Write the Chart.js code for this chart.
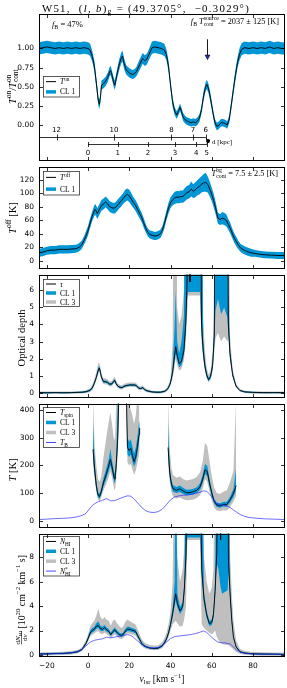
<!DOCTYPE html>
<html>
<head>
<meta charset="utf-8">
<script src="https://cdn.jsdelivr.net/npm/chart.js@4/dist/chart.umd.min.js"></script>
<style>
html, body { margin: 0; padding: 0; background: #fff; }
#wrap { position: relative; width: 287px; height: 688px; overflow: hidden; }
canvas { position: absolute; left: 0; }
</style>
</head>
<body>
<div id="wrap">
  <canvas id="c1"></canvas>
  <canvas id="c2"></canvas>
  <canvas id="c3"></canvas>
  <canvas id="c4"></canvas>
  <canvas id="c5"></canvas>
</div>
<script>
// ---------- data ----------
const xTicks = [-20, 0, 20, 40, 60, 80];
const yTicks1 = [0, 0.25, 0.5, 0.75, 1];
const yTicks2 = [0, 20, 40, 60, 80, 100, 120];
const yTicks3 = [0, 1, 2, 3, 4, 5, 6];
const yTicks4 = [0, 100, 200, 300, 400];
const yTicks5 = [0, 2, 4, 6, 8];

// distance scale (kpc) and the velocity each tick sits at
const distFar = [12, 10, 8, 7, 6];
const distFarVel = [-15.3, 12.6, 40.4, 50.9, 57.1];
const distNear = [0, 1, 2, 3, 4, 5];
const distNearVel = [0, 14.4, 29.0, 42.2, 52.4, 57.6];
const tangentVel = 58.2;
const arrowVel = 57.5;

// panel 1: T_on / T_on,cont
const vel1 = [-24, -22, -20, -18, -16, -14, -12, -10, -8, -6, -4, -2,
  0, 1, 2, 3, 4, 5, 5.5,
  6, 6.5, 7.5, 8.5, 9.5, 10.5, 11, 11.5, 12.5, 13, 14, 15, 16, 16.7, 17.5,
  18.5, 20, 21.5, 22.5, 23.5, 25, 26.5, 27.5, 28.5, 29.5, 31, 32.5, 34, 35.5, 37,
  38, 39, 40, 41, 42, 43, 44, 44.6, 45.3, 46, 47, 48, 49, 50, 51,
  52, 53, 54, 55, 56, 57, 57.6, 58.5, 59.5, 60.5, 61.5, 62.5, 63.5, 64.5, 65.5,
  66.5, 67.5, 68.5, 69.5, 70.5, 71.5, 72.5, 73.5, 74.5, 76, 78, 80, 82, 84, 86,
  88, 90, 92, 94, 95.5];
const ton = [1.00, 1.01, 1.02, 1.01, 1.00, 1.01, 1.00, 1.01, 1.00, 1.01, 1.00, 1.01,
  1.00, 0.98, 0.90, 0.78, 0.55, 0.31, 0.27,
  0.36, 0.52, 0.54, 0.57, 0.62, 0.70, 0.71, 0.66, 0.55, 0.52, 0.66, 0.78, 0.87, 0.90, 0.80,
  0.72, 0.68, 0.66, 0.67, 0.70, 0.79, 0.87, 0.84, 0.86, 0.92, 1.01, 1.02, 1.01, 1.00, 0.98,
  0.92, 0.77, 0.52, 0.30, 0.18, 0.13, 0.19, 0.23, 0.18, 0.11, 0.07, 0.05, 0.04, 0.03, 0.04,
  0.03, 0.05, 0.09, 0.20, 0.38, 0.50, 0.53, 0.47, 0.33, 0.17, 0.03, -0.02, 0.00, 0.03, 0.03,
  0.02, 0.00, 0.08, 0.27, 0.47, 0.66, 0.82, 0.93, 0.99, 1.01, 1.00, 1.01, 1.00, 1.01, 1.00,
  1.02, 1.00, 1.01, 1.00, 1.00];
const tonErr = [0.08, 0.08, 0.08, 0.08, 0.08, 0.08, 0.08, 0.08, 0.08, 0.08, 0.08, 0.08,
  0.08, 0.08, 0.07, 0.07, 0.07, 0.06, 0.06,
  0.06, 0.06, 0.06, 0.06, 0.06, 0.06, 0.06, 0.06, 0.06, 0.06, 0.06, 0.07, 0.07, 0.07, 0.07,
  0.06, 0.06, 0.06, 0.06, 0.06, 0.07, 0.07, 0.07, 0.07, 0.07, 0.08, 0.08, 0.08, 0.08, 0.08,
  0.07, 0.07, 0.06, 0.06, 0.05, 0.05, 0.05, 0.05, 0.05, 0.05, 0.05, 0.05, 0.05, 0.05, 0.05,
  0.05, 0.05, 0.05, 0.05, 0.06, 0.06, 0.06, 0.06, 0.06, 0.05, 0.05, 0.05, 0.05, 0.05, 0.05,
  0.05, 0.05, 0.05, 0.06, 0.06, 0.07, 0.07, 0.08, 0.08, 0.08, 0.08, 0.08, 0.08, 0.08, 0.08,
  0.08, 0.08, 0.08, 0.08, 0.08];

// panel 2: T_off [K]
const vel2 = [-24, -22, -20, -18, -16, -14, -12, -10, -8, -6,
  -5, -4, -3, -2, -1, 0, 1, 2, 3, 3.5, 4.5, 5.5, 6.5, 7.5, 8.5,
  9.5, 10.5, 12, 13, 14, 15, 16, 17, 18, 19, 20, 21, 22, 23, 24,
  25, 26, 27, 28, 29, 30, 31, 32, 33, 34, 35, 36, 37, 38, 39,
  40, 41, 42, 43, 44, 45, 46, 47, 48, 49, 50, 51, 52, 53, 54,
  55, 56, 57, 58, 59, 60, 61, 62, 63, 64, 65, 66, 67, 68, 69,
  70, 71, 72, 73, 74, 75, 77, 79, 81, 83, 86, 89, 92, 95.5];
const toff = [12, 13, 15, 16, 16, 17, 17, 17, 17.5, 18,
  19, 21, 24, 30, 37, 45, 56, 66, 74, 76, 70, 76, 82, 84, 87,
  84, 80, 78, 78, 81, 85, 88, 92, 96, 98, 96, 91, 86, 82, 76,
  70, 64, 56, 48, 42, 39, 38, 37, 37, 38, 40, 45, 55, 67, 78,
  86, 90, 93, 94, 94, 95, 95, 98, 101, 102, 106, 103, 105, 108, 110,
  113, 115, 116, 113, 106, 98, 88, 76, 63, 61, 63, 62, 60, 54, 48,
  40, 33, 28, 23, 19, 17, 14, 12, 11, 10, 9, 8.5, 8, 8];
const toffErr = [6, 6, 6, 6, 6, 6, 6, 6, 6, 6,
  6, 6, 6, 6, 7, 7, 7, 7, 8, 8, 8, 8, 8, 8, 8,
  8, 8, 8, 8, 8, 8, 8, 8, 9, 9, 9, 9, 8, 8, 8,
  7, 7, 7, 6, 6, 6, 6, 6, 6, 6, 6, 6, 7, 7, 8,
  8, 8, 9, 9, 9, 9, 9, 10, 10, 10, 11, 10, 11, 11, 12,
  12, 13, 14, 12, 11, 10, 10, 9, 8, 8, 9, 9, 9, 8, 8,
  7, 7, 7, 6, 6, 6, 6, 6, 5, 5, 5, 5, 5, 5];

// panel 3: optical depth (20 = saturated, off the plot)
const velTau = [-24, -20, -16, -12, -8, -5, -3, -1, 0, 1,
  2, 3, 4, 5, 5.5, 6, 6.5, 7.5, 8.5, 9.5,
  10.5, 11.5, 12.5, 13, 13.5, 14.5, 15.5, 16.5, 17.5, 18.5,
  19.5, 20.5, 21.5, 22.5, 23.5, 24.5, 25.5, 26.5, 27.5, 28.5,
  29.5, 31, 33, 35, 37, 38, 39, 40, 41, 42,
  42.5, 43.2, 44.2, 45.3, 46.5, 47.4, 48, 48.5, 49.2, 49.4,
  49.6, 54.3, 55, 55.8, 56.6, 57.5, 58.4, 59.4, 60.4, 61.2,
  61.8, 63, 64.5, 66, 67.6, 68, 68.8, 70.1, 71.7, 73.6,
  76, 80, 85, 90, 95.5];
const tau = [0.01, 0.00, 0.01, 0.00, 0.01, 0.02, 0.03, 0.06, 0.10, 0.15,
  0.28, 0.55, 0.90, 1.35, 1.45, 1.20, 0.90, 0.65, 0.65, 0.60,
  0.50, 0.52, 0.68, 0.72, 0.55, 0.38, 0.32, 0.30, 0.38, 0.42,
  0.44, 0.46, 0.45, 0.46, 0.40, 0.28, 0.24, 0.30, 0.18, 0.12,
  0.09, 0.05, 0.03, 0.03, 0.08, 0.15, 0.30, 0.60, 1.20, 2.20,
  2.70, 2.20, 1.70, 1.85, 2.50, 4.10, 6.50, 20, 20, 6.50,
  20, 20, 4.10, 2.50, 1.60, 1.05, 0.77, 0.95, 1.60, 3.30,
  20, 20, 20, 20, 20, 4.10, 2.30, 1.05, 0.40, 0.13,
  0.05, 0.02, 0.01, 0.01, 0.01];
const tauCl1Lo = [-0.03, -0.04, -0.03, -0.04, -0.03, -0.02, -0.01, 0.02, 0.06, 0.10,
  0.22, 0.48, 0.82, 1.25, 1.35, 1.10, 0.82, 0.58, 0.58, 0.54,
  0.44, 0.46, 0.62, 0.65, 0.49, 0.33, 0.27, 0.25, 0.33, 0.37,
  0.39, 0.41, 0.40, 0.41, 0.35, 0.24, 0.20, 0.25, 0.14, 0.08,
  0.05, 0.01, -0.01, -0.01, 0.04, 0.11, 0.25, 0.52, 1.05, 1.90,
  2.30, 1.90, 1.50, 1.60, 2.20, 3.50, 5.50, 5.90, 5.90, 5.90,
  5.90, 5.90, 3.40, 2.20, 1.45, 0.95, 0.68, 0.85, 1.40, 2.80,
  4.80, 5.50, 4.60, 5.00, 4.40, 3.60, 2.10, 0.97, 0.36, 0.11,
  0.01, -0.02, -0.03, -0.03, -0.03];
const tauCl1Hi = [0.05, 0.04, 0.05, 0.04, 0.05, 0.06, 0.07, 0.10, 0.14, 0.20,
  0.34, 0.62, 0.98, 1.50, 1.58, 1.30, 0.98, 0.72, 0.72, 0.66,
  0.56, 0.58, 0.75, 0.80, 0.62, 0.43, 0.37, 0.35, 0.43, 0.47,
  0.49, 0.51, 0.50, 0.51, 0.45, 0.32, 0.28, 0.35, 0.22, 0.16,
  0.13, 0.09, 0.07, 0.07, 0.12, 0.19, 0.36, 0.70, 1.50, 4.00,
  6.00, 3.00, 2.30, 3.00, 4.50, 20, 20, 20, 20, 20,
  20, 20, 20, 3.20, 1.90, 1.20, 0.87, 1.08, 1.85, 4.00,
  20, 20, 20, 20, 20, 6.00, 2.60, 1.15, 0.45, 0.16,
  0.09, 0.06, 0.05, 0.05, 0.05];
const tauCl3Lo = [-0.06, -0.07, -0.06, -0.07, -0.06, -0.05, -0.04, -0.02, 0.02, 0.05,
  0.15, 0.40, 0.72, 1.12, 1.20, 0.98, 0.72, 0.50, 0.50, 0.46,
  0.37, 0.38, 0.54, 0.56, 0.42, 0.26, 0.21, 0.19, 0.27, 0.31,
  0.33, 0.35, 0.34, 0.35, 0.29, 0.18, 0.14, 0.19, 0.09, 0.03,
  0.01, -0.03, -0.05, -0.05, 0.00, 0.06, 0.18, 0.42, 0.85, 1.60,
  2.00, 1.60, 1.30, 1.40, 1.90, 3.00, 4.50, 5.70, 5.70, 5.70,
  5.70, 5.70, 3.00, 2.00, 1.30, 0.85, 0.60, 0.75, 1.25, 2.40,
  3.20, 3.50, 3.00, 3.30, 3.00, 3.20, 1.90, 0.90, 0.32, 0.08,
  -0.02, -0.06, -0.07, -0.06, -0.07];
const tauCl3Hi = [0.08, 0.07, 0.08, 0.07, 0.08, 0.09, 0.10, 0.14, 0.20, 0.26,
  0.45, 0.78, 1.20, 1.75, 1.72, 1.45, 1.12, 0.85, 0.84, 0.78,
  0.66, 0.68, 0.90, 0.94, 0.72, 0.52, 0.46, 0.44, 0.52, 0.56,
  0.58, 0.60, 0.60, 0.60, 0.54, 0.40, 0.36, 0.43, 0.30, 0.22,
  0.18, 0.12, 0.10, 0.10, 0.16, 0.25, 0.46, 0.90, 3.00, 20,
  20, 5.00, 4.00, 4.50, 6.00, 20, 20, 20, 20, 20,
  20, 20, 20, 4.50, 2.60, 1.50, 1.05, 1.30, 2.40, 5.00,
  20, 20, 20, 20, 20, 20, 3.40, 1.40, 0.55, 0.22,
  0.12, 0.08, 0.07, 0.08, 0.07];

// panel 4: spin temperature [K] (null = no solution, 440 = off the plot)
const velTs = [2.4, 3.2, 4.0, 4.8, 5.6, 6.4, 7.5, 8.8, 10.1, 10.8, 11.6, 12.6, 13.1, 13.7, 14.4, 14.9,
  16.5,
  18.6, 19.1, 19.9, 20.7, 21.5, 22.3, 23.1, 23.9, 24.7, 25.0,
  31,
  38.8, 39.6, 40.4, 41.2, 42.9, 44.5, 46.2, 47.8, 49.4, 51.1, 52.7, 54.3, 55.6,
  56.7, 57.8, 58.8, 60.0, 61.1, 62.4, 64.0, 65.6, 67.3, 68.9, 70.5, 71.8];
const tspin = [258, 184, 127, 93, 88, 105, 139, 167, 201, 221, 196, 156, 150, 207, 300, 440,
  null,
  440, 264, 253, 261, 235, 213, 230, 264, 310, 335,
  null,
  264, 173, 133, 116, 110, 115, 107, 101, 102, 105, 110, 122, 150,
  184, 178, 139, 99, 71, 57, 54, 59, 59, 76, 99, 127];
const tsCl1Lo = [225, 165, 115, 84, 80, 95, 125, 150, 182, 198, 178, 140, 135, 185, 270, 400,
  null,
  400, 240, 230, 238, 215, 195, 210, 240, 280, 300,
  null,
  235, 158, 122, 105, 100, 104, 97, 92, 93, 95, 100, 111, 137,
  168, 162, 126, 89, 63, 50, 47, 52, 51, 66, 86, 110];
const tsCl1Hi = [350, 215, 142, 103, 98, 117, 155, 188, 225, 260, 218, 175, 170, 235, 440, 440,
  null,
  440, 300, 285, 295, 268, 243, 262, 300, 355, 380,
  null,
  350, 195, 148, 128, 122, 127, 118, 112, 113, 116, 121, 135, 166,
  205, 198, 155, 111, 80, 65, 63, 68, 69, 88, 115, 190];
const tsCl3Lo = [200, 148, 103, 76, 70, 85, 110, 133, 160, 178, 158, 115, 110, 160, 240, 360,
  null,
  360, 210, 200, 205, 185, 165, 180, 205, 240, 260,
  null,
  200, 140, 105, 88, 80, 84, 78, 74, 75, 77, 82, 92, 115,
  150, 142, 108, 72, 48, 37, 35, 38, 37, 50, 70, 90];
const tsCl3Hi = [440, 270, 200, 150, 140, 160, 230, 300, 360, 390, 350, 290, 300, 440, 440, 440,
  null,
  440, 440, 420, 400, 380, 350, 380, 440, 440, 440,
  null,
  440, 260, 190, 165, 155, 160, 150, 145, 148, 152, 158, 175, 215,
  280, 270, 220, 160, 120, 100, 97, 105, 110, 140, 180, 440];
const velTB = [-24, -20, -16, -12, -8, -5, -3, -1, 1, 3,
  5, 7, 9, 11, 13, 15, 17, 19, 20.5, 22,
  24, 26, 28, 30, 32, 34, 36, 38, 40, 42,
  44, 46, 48, 50, 52, 54, 56, 57.5, 59, 60.5,
  62, 64, 66, 67.5, 69, 70.5, 72, 74, 76, 78,
  82, 86, 90, 95.5];
const tB = [4.5, 6, 8, 9, 11, 15, 19, 27, 46, 61,
  69, 74, 80, 72, 73, 79, 85, 90, 89, 81,
  65, 48, 36, 31, 30, 33, 42, 58, 76, 86,
  90, 92, 93, 95, 99, 102, 108, 106, 96, 80,
  64, 58, 56, 53, 47, 39, 31, 22, 16, 12,
  9, 7, 6, 4.5];

// panel 5: dN_HI/dv [1e20 cm^-2 km^-1 s]
const velN = [-24, -20, -16, -12, -8, -5, -3, -1, 0, 1,
  2, 3, 4, 5, 6, 7, 8, 9, 10, 11,
  12, 13, 14, 15, 16, 17, 18, 19, 20, 21,
  22, 23, 24, 25, 26, 27, 28, 29, 30, 32,
  34, 36, 37, 38, 39, 40, 41, 42, 42.5, 43.3,
  44.6, 45.9, 46.7, 47.5, 48.1, 54.3, 55.1, 56.2, 57.5, 58.8,
  60, 60.8, 61.6, 62.4, 63.2, 64.3, 65, 67.7, 68.1, 68.9,
  69.7, 70.5, 71.8, 73.7, 76, 80, 85, 90, 95.5];
const nhi = [0.08, 0.10, 0.12, 0.13, 0.18, 0.27, 0.45, 0.95, 1.35, 1.80,
  2.00, 2.10, 2.35, 2.40, 2.15, 2.10, 2.25, 2.05, 1.95, 1.67,
  1.90, 2.05, 1.85, 1.68, 1.60, 1.68, 1.95, 2.10, 2.10, 2.05,
  2.00, 1.93, 1.60, 1.28, 0.95, 0.78, 0.68, 0.62, 0.57, 0.53,
  0.56, 0.75, 1.00, 1.30, 1.80, 2.50, 3.40, 4.50, 5.00, 4.20,
  3.60, 3.97, 5.40, 8.10, 20, 20, 7.00, 4.60, 3.30, 2.57,
  2.65, 3.30, 5.20, 8.30, 20, 9.40, 20, 20, 7.50, 4.90,
  2.80, 1.46, 0.66, 0.26, 0.16, 0.10, 0.08, 0.07, 0.05];
const nCl1Lo = [0.02, 0.04, 0.06, 0.07, 0.12, 0.21, 0.38, 0.85, 1.22, 1.65,
  1.85, 1.95, 2.15, 2.20, 1.98, 1.94, 2.07, 1.90, 1.80, 1.54,
  1.75, 1.90, 1.70, 1.55, 1.47, 1.55, 1.80, 1.95, 1.95, 1.90,
  1.85, 1.78, 1.47, 1.17, 0.86, 0.70, 0.61, 0.56, 0.51, 0.47,
  0.50, 0.68, 0.92, 1.20, 1.65, 2.30, 3.10, 4.00, 4.50, 3.90,
  3.35, 3.70, 5.00, 7.50, 9.60, 9.60, 6.50, 4.30, 3.05, 2.38,
  2.45, 3.05, 4.80, 7.50, 7.00, 5.50, 5.00, 5.30, 6.90, 4.50,
  2.55, 1.33, 0.59, 0.21, 0.11, 0.05, 0.03, 0.02, 0.00];
const nCl1Hi = [0.14, 0.16, 0.18, 0.19, 0.24, 0.33, 0.52, 1.05, 1.50, 2.00,
  2.20, 2.30, 2.60, 2.75, 2.40, 2.30, 2.45, 2.25, 2.12, 1.82,
  2.08, 2.25, 2.02, 1.85, 1.75, 1.82, 2.12, 2.30, 2.30, 2.22,
  2.16, 2.10, 1.75, 1.40, 1.05, 0.87, 0.76, 0.69, 0.64, 0.60,
  0.63, 0.83, 1.10, 1.42, 1.95, 2.75, 3.80, 6.00, 20, 5.00,
  3.95, 4.30, 6.00, 20, 20, 20, 20, 5.20, 3.60, 2.80,
  2.90, 3.60, 6.00, 20, 20, 20, 20, 20, 20, 5.60,
  3.10, 1.60, 0.74, 0.31, 0.21, 0.15, 0.13, 0.12, 0.10];
const nCl3Lo = [-0.05, -0.03, -0.01, 0.00, 0.05, 0.14, 0.30, 0.75, 1.10, 1.50,
  1.65, 1.75, 1.90, 1.95, 1.75, 1.70, 1.85, 1.70, 1.60, 1.35,
  1.55, 1.70, 1.50, 1.38, 1.30, 1.38, 1.60, 1.75, 1.75, 1.70,
  1.65, 1.58, 1.30, 1.02, 0.74, 0.60, 0.52, 0.47, 0.43, 0.38,
  0.42, 0.58, 0.80, 1.05, 1.45, 2.00, 2.50, 2.70, 2.80, 2.60,
  2.30, 2.40, 3.00, 4.00, 9.40, 9.40, 2.50, 2.20, 2.00, 1.80,
  1.70, 1.80, 2.00, 1.50, 1.20, 1.00, 0.90, 0.80, 0.80, 0.70,
  0.60, 0.45, 0.25, 0.08, 0.02, -0.03, -0.05, -0.05, -0.06];
const nCl3Hi = [0.20, 0.22, 0.25, 0.26, 0.32, 0.42, 0.62, 1.20, 1.70, 2.30,
  2.60, 2.80, 3.20, 3.80, 3.10, 2.90, 3.10, 2.90, 2.80, 2.40,
  2.80, 2.90, 2.60, 2.40, 2.20, 2.30, 2.70, 2.90, 2.80, 2.70,
  2.60, 2.50, 2.10, 1.70, 1.30, 1.08, 0.95, 0.88, 0.82, 0.78,
  0.80, 1.05, 1.40, 1.80, 2.50, 3.60, 6.00, 20, 20, 8.00,
  6.00, 7.00, 9.00, 20, 20, 20, 20, 8.00, 6.00, 5.00,
  5.50, 7.00, 20, 20, 20, 20, 20, 20, 20, 8.00,
  5.00, 2.80, 1.20, 0.50, 0.32, 0.25, 0.22, 0.20, 0.20];
const velStar = [-24, -16, -10, -6, -3, -1, 1, 3, 5, 7,
  9, 11, 13, 15, 17, 19, 20.5, 22, 24, 26,
  28, 30, 32, 34, 36, 38, 40, 42, 44, 46,
  48, 50, 52, 54, 56, 57.5, 59, 61, 63, 65,
  67, 69, 70.5, 72, 74, 77, 82, 90, 95.5];
const nStar = [0.08, 0.12, 0.15, 0.25, 0.45, 0.75, 1.05, 1.20, 1.27, 1.33,
  1.46, 1.40, 1.47, 1.53, 1.59, 1.67, 1.62, 1.45, 1.15, 0.85,
  0.68, 0.60, 0.58, 0.62, 0.78, 1.06, 1.35, 1.50, 1.55, 1.59,
  1.63, 1.68, 1.75, 1.85, 1.97, 1.85, 1.60, 1.30, 1.05, 1.00,
  0.98, 0.90, 0.66, 0.42, 0.24, 0.12, 0.08, 0.06, 0.05];

// ---------- styling ----------
const BLUE = '#0096d6', GREY = '#bfbfbf', TBLUE = 'rgba(40,40,255,0.85)';
const SERIF = '"Liberation Serif", "DejaVu Serif", serif';
const SANS = '"DejaVu Sans", sans-serif';
const X_MIN = -23.8, X_MAX = 95.5;
const YLAB = 10.5;

function check(name, a, b) {
  if (a.length !== b.length) throw new Error(name + ' length ' + a.length + ' vs ' + b.length);
}
check('ton', vel1, ton); check('tonErr', vel1, tonErr);
check('toff', vel2, toff); check('toffErr', vel2, toffErr);
[tau, tauCl1Lo, tauCl1Hi, tauCl3Lo, tauCl3Hi].forEach(function (a, i) { check('tau' + i, velTau, a); });
[tspin, tsCl1Lo, tsCl1Hi, tsCl3Lo, tsCl3Hi].forEach(function (a, i) { check('ts' + i, velTs, a); });
check('tB', velTB, tB);
[nhi, nCl1Lo, nCl1Hi, nCl3Lo, nCl3Hi].forEach(function (a, i) { check('n' + i, velN, a); });
check('nStar', velStar, nStar);

function pts(xs, ys) { return xs.map(function (x, i) { return {x: x, y: ys[i]}; }); }
function band(xs, lo, hi, color, order) {
  return [
    {data: pts(xs, lo), borderWidth: 0, borderColor: 'rgba(0,0,0,0)', pointRadius: 0, fill: false, order: order},
    {data: pts(xs, hi), borderWidth: 0, borderColor: 'rgba(0,0,0,0)', pointRadius: 0, backgroundColor: color, fill: '-1', order: order}
  ];
}
function line(xs, ys, color, w, order) {
  return {data: pts(xs, ys), borderColor: color, borderWidth: w, pointRadius: 0, fill: false, order: order};
}
function minus(v) { return String(v).replace('-', '\u2212'); }

// rich text: parts = [text, flags]; i italic, ^ sup, _ sub, k stacked under previous sup
function layoutRich(ctx, parts, size) {
  var items = [], w = 0, supX = 0;
  parts.forEach(function (p) {
    var f = p[1] || '';
    var small = f.indexOf('^') >= 0 || f.indexOf('_') >= 0;
    var s = small ? size * 0.7 : size;
    var font = (f.indexOf('i') >= 0 ? 'italic ' : '') + s.toFixed(2) + 'px ' + SERIF;
    ctx.font = font;
    var tw = ctx.measureText(p[0]).width;
    var dy = f.indexOf('^') >= 0 ? -size * 0.42 : (f.indexOf('_') >= 0 ? size * 0.25 : 0);
    var px;
    if (f.indexOf('k') >= 0) { px = supX; w = Math.max(w, supX + tw); }
    else { px = w; if (f.indexOf('^') >= 0) supX = w; w += tw; }
    items.push({t: p[0], font: font, x: px, dy: dy});
  });
  return {items: items, w: w};
}
function drawRich(ctx, parts, x, y, size, align) {
  var L = layoutRich(ctx, parts, size);
  var x0 = align === 'center' ? x - L.w / 2 : (align === 'right' ? x - L.w : x);
  ctx.fillStyle = '#000';
  ctx.textAlign = 'left';
  ctx.textBaseline = 'alphabetic';
  L.items.forEach(function (it) { ctx.font = it.font; ctx.fillText(it.t, x0 + it.x, y + it.dy); });
  return L.w;
}
function drawVText(ctx, parts, x, y, size) {
  ctx.save();
  ctx.translate(x, y);
  ctx.rotate(-Math.PI / 2);
  drawRich(ctx, parts, 0, 0, size, 'center');
  ctx.restore();
}
function drawNhiLabel(ctx, x, y, size) {
  ctx.save();
  ctx.translate(x, y);
  ctx.rotate(-Math.PI / 2);
  var fs = size * 0.72;
  var num = [['d', ''], ['N', 'i'], ['HI', '_']];
  var den = [['d', ''], ['v', 'i']];
  var rest = [[' [10', ''], ['20', '^'], [' cm', ''], ['\u22122', '^'], [' km', ''], ['\u22121', '^'], [' s]', '']];
  var nw = layoutRich(ctx, num, fs).w, dw = layoutRich(ctx, den, fs).w;
  var fw = Math.max(nw, dw), rw = layoutRich(ctx, rest, size).w;
  var x0 = -(fw + rw) / 2, bar = -size * 0.3;
  drawRich(ctx, num, x0 + (fw - nw) / 2, bar - 1.6, fs, 'left');
  drawRich(ctx, den, x0 + (fw - dw) / 2, bar + fs * 0.8, fs, 'left');
  ctx.fillRect(x0, bar - 0.3, fw, 0.6);
  drawRich(ctx, rest, x0 + fw, 0, size, 'left');
  ctx.restore();
}

function drawLegend(ctx, area, spec) {
  var x0 = Math.round(area.left + 3.5) + 0.5, y0 = Math.round(area.top + spec.dy) + 0.5;
  var w = 36, h = spec.h, n = spec.items.length;
  ctx.save();
  ctx.fillStyle = '#fff';
  ctx.fillRect(x0, y0, w, h);
  ctx.strokeStyle = '#333';
  ctx.lineWidth = 0.8;
  ctx.strokeRect(x0, y0, w, h);
  spec.items.forEach(function (it, i) {
    var cy = y0 + h * (i + 0.5) / n;
    ctx.strokeStyle = it.color;
    ctx.lineWidth = it.lw;
    ctx.beginPath();
    ctx.moveTo(x0 + 2.5, cy);
    ctx.lineTo(x0 + 12.5, cy);
    ctx.stroke();
    drawRich(ctx, it.label, x0 + 16.5, cy + 2.6, 7.5, 'left');
  });
  ctx.restore();
}

function drawDistance(chart) {
  var ctx = chart.ctx, xs = chart.scales.x, ys = chart.scales.y;
  var yFar = Math.round(ys.getPixelForValue(-0.155)) + 0.5;
  var yNear = Math.round(ys.getPixelForValue(-0.245)) + 0.5;
  var dx = xs.getPixelForValue(tangentVel), dy = (yFar + yNear) / 2;
  ctx.save();
  ctx.strokeStyle = '#000';
  ctx.lineWidth = 0.8;
  ctx.beginPath();
  ctx.moveTo(chart.chartArea.left, yFar);
  ctx.lineTo(xs.getPixelForValue(distFarVel[distFarVel.length - 1]), yFar);
  ctx.lineTo(dx, dy);
  ctx.moveTo(xs.getPixelForValue(distNearVel[0]), yNear);
  ctx.lineTo(xs.getPixelForValue(distNearVel[distNearVel.length - 1]), yNear);
  ctx.lineTo(dx, dy);
  distFarVel.forEach(function (v) {
    var px = Math.round(xs.getPixelForValue(v)) + 0.5;
    ctx.moveTo(px, yFar - 3); ctx.lineTo(px, yFar + 3);
  });
  distNearVel.forEach(function (v) {
    var px = Math.round(xs.getPixelForValue(v)) + 0.5;
    ctx.moveTo(px, yNear - 2.5); ctx.lineTo(px, yNear + 2.5);
  });
  ctx.stroke();
  ctx.fillStyle = '#000';
  ctx.font = '7px ' + SANS;
  ctx.textAlign = 'center';
  ctx.textBaseline = 'alphabetic';
  distFar.forEach(function (d, i) { ctx.fillText(String(d), xs.getPixelForValue(distFarVel[i]), yFar - 5.5); });
  distNear.forEach(function (d, i) { ctx.fillText(String(d), xs.getPixelForValue(distNearVel[i]), yNear + 10); });
  ctx.beginPath();
  ctx.arc(dx, dy, 2, 0, Math.PI * 2);
  ctx.fill();
  drawRich(ctx, [['d [kpc]', '']], dx + 4, dy + 2.5, 7, 'left');
  ctx.restore();
}

function drawArrow(chart) {
  var ctx = chart.ctx, xs = chart.scales.x, ys = chart.scales.y;
  var x = Math.round(xs.getPixelForValue(arrowVel)) + 0.5;
  var y0 = ys.getPixelForValue(1.12), y1 = ys.getPixelForValue(0.855);
  ctx.save();
  ctx.strokeStyle = '#000';
  ctx.lineWidth = 0.9;
  ctx.beginPath();
  ctx.moveTo(x, y0);
  ctx.lineTo(x, y1 - 4);
  ctx.stroke();
  ctx.beginPath();
  ctx.moveTo(x - 2.4, y1 - 4.5);
  ctx.lineTo(x + 2.4, y1 - 4.5);
  ctx.lineTo(x, y1);
  ctx.closePath();
  ctx.fillStyle = '#1f2fb0';
  ctx.fill();
  ctx.lineWidth = 0.6;
  ctx.stroke();
  ctx.restore();
}

function drawTitle(ctx) {
  var parts = [['W51,  (', ''], ['l', 'i'], [', ', ''], ['b', 'i'], [')', ''], ['g', '_'], [' = (49.3705\u00b0,  \u22120.3029\u00b0)', '']];
  ctx.save();
  ctx.letterSpacing = '1.3px';
  drawRich(ctx, parts, 146, 11.5, 10.8, 'center');
  ctx.restore();
}

// ---------- panels ----------
const panels = [
  {
    top: 14, bottom: 163, canvasTop: 0, min: -0.45, max: 1.45, ticks: yTicks1,
    fmt: function (v) { return v.toFixed(2); },
    datasets: band(vel1, ton.map(function (v, i) { return v - tonErr[i]; }), ton.map(function (v, i) { return v + tonErr[i]; }), BLUE, 2)
      .concat([line(vel1, ton, '#000', 0.9, 1)]),
    legend: {dy: 62, h: 20.5, items: [
      {label: [['T', 'i'], ['on', '^']], color: '#000', lw: 1},
      {label: [['CL 1', '']], color: BLUE, lw: 3.5}]},
    ylab: function (ctx, a) { drawVText(ctx, [['T', 'i'], ['on', '^'], ['/', ''], ['T', 'i'], ['on', '^'], ['cont', '_k']], 15.5, (a.top + a.bottom) / 2, YLAB); },
    over: function (chart) {
      var ctx = chart.ctx;
      drawDistance(chart);
      drawArrow(chart);
      drawRich(ctx, [['f', 'i'], ['B', '_'], [' = 47%', '']], 52, 26.5, 8.5, 'left');
      drawRich(ctx, [['f', 'i'], ['B', '_'], [' ', ''], ['T', 'i'], ['source', '^'], ['cont', '_k'], [' = 2037 \u00b1 125 [K]', '']], 279, 23.5, 8.3, 'right');
      drawTitle(ctx);
    }
  },
  {
    top: 163, bottom: 271, canvasTop: 157, min: -9.7, max: 139.3, ticks: yTicks2,
    fmt: function (v) { return String(v); },
    datasets: band(vel2, toff.map(function (v, i) { return v - toffErr[i]; }), toff.map(function (v, i) { return v + toffErr[i]; }), BLUE, 2)
      .concat([line(vel2, toff, '#000', 0.9, 1)]),
    legend: {dy: 4, h: 23.5, items: [
      {label: [['T', 'i'], ['off', '^']], color: '#000', lw: 1},
      {label: [['CL 1', '']], color: BLUE, lw: 3.5}]},
    ylab: function (ctx, a) { drawVText(ctx, [['T', 'i'], ['off', '^'], [' [K]', '']], 15.5, (a.top + a.bottom) / 2 + 1, YLAB); },
    under: function (chart) {
      drawRich(chart.ctx, [['T', 'i'], ['bg', '^'], ['cont', '_k'], [' = 7.5 \u00b1 2.5 [K]', '']], 278, 175.8 - 157, 8.3, 'right');
    }
  },
  {
    top: 271, bottom: 400, canvasTop: 265, min: -0.22, max: 6.93, ticks: yTicks3,
    fmt: function (v) { return String(v); },
    datasets: band(velTau, tauCl3Lo, tauCl3Hi, GREY, 3)
      .concat(band(velTau, tauCl1Lo, tauCl1Hi, BLUE, 2))
      .concat([line(velTau, tau, '#000', 0.9, 1)]),
    legend: {dy: 4, h: 27, items: [
      {label: [['\u03c4', 'i']], color: '#000', lw: 1},
      {label: [['CL 1', '']], color: BLUE, lw: 3.5},
      {label: [['CL 3', '']], color: GREY, lw: 3.5}]},
    ylab: function (ctx, a) { drawVText(ctx, [['Optical depth', '']], 25, (a.top + a.bottom) / 2 + 2.5, YLAB); }
  },
  {
    top: 400, bottom: 530, canvasTop: 394, min: -20.5, max: 422.8, ticks: yTicks4,
    fmt: function (v) { return String(v); },
    datasets: band(velTs, tsCl3Lo, tsCl3Hi, GREY, 3)
      .concat(band(velTs, tsCl1Lo, tsCl1Hi, BLUE, 2))
      .concat([line(velTs, tspin, '#000', 0.9, 1), line(velTB, tB, TBLUE, 0.8, 0)]),
    legend: {dy: 3, h: 40, items: [
      {label: [['T', 'i'], ['spin', '_']], color: '#000', lw: 1},
      {label: [['CL 1', '']], color: BLUE, lw: 3.5},
      {label: [['CL 3', '']], color: GREY, lw: 3.5},
      {label: [['T', 'i'], ['B', '_']], color: TBLUE, lw: 1}]},
    ylab: function (ctx, a) { drawVText(ctx, [['T', 'i'], [' [K]', '']], 15.5, (a.top + a.bottom) / 2 + 5, YLAB); }
  },
  {
    top: 530, bottom: 656, canvasTop: 524, min: -0.08, max: 9.93, ticks: yTicks5, last: true,
    fmt: function (v) { return String(v); },
    datasets: band(velN, nCl3Lo, nCl3Hi, GREY, 3)
      .concat(band(velN, nCl1Lo, nCl1Hi, BLUE, 2))
      .concat([line(velN, nhi, '#000', 0.9, 1), line(velStar, nStar, TBLUE, 0.8, 0)]),
    legend: {dy: 2, h: 39.5, items: [
      {label: [['N', 'i'], ['HI', '_']], color: '#000', lw: 1},
      {label: [['CL 1', '']], color: BLUE, lw: 3.5},
      {label: [['CL 3', '']], color: GREY, lw: 3.5},
      {label: [['N', 'i'], ['*', '^'], ['HI', '_k']], color: TBLUE, lw: 1}]},
    ylab: function (ctx, a) { drawNhiLabel(ctx, 24.5, (a.top + a.bottom) / 2 + 5, 9.8); },
    over: function (chart) {
      drawRich(chart.ctx, [['v', 'i'], ['lsr', '_'], [' [km s', ''], ['\u22121', '^'], [']', '']], 162, 682 - 524, 9.5, 'center');
    }
  }
];

panels.forEach(function (p, i) {
  var canvas = document.getElementById('c' + (i + 1));
  var h = p.last ? 688 - p.canvasTop : p.bottom + 6 - p.canvasTop;
  canvas.width = 287;
  canvas.height = h;
  canvas.style.top = p.canvasTop + 'px';
  canvas.style.width = '287px';
  canvas.style.height = h + 'px';

  var deco = {
    id: 'deco' + i,
    beforeDatasetsDraw: function (chart) { if (p.under) p.under(chart); },
    afterDatasetsDraw: function (chart) {
      if (p.over) p.over(chart);
      drawLegend(chart.ctx, chart.chartArea, p.legend);
    },
    afterDraw: function (chart) {
      var ctx = chart.ctx, a = chart.chartArea, xs = chart.scales.x, ys = chart.scales.y;
      var l = Math.round(a.left) + 0.5, r = Math.round(a.right) - 0.5;
      var t = Math.round(a.top) + 0.5, b = Math.round(a.bottom) + 0.5;
      ctx.save();
      ctx.strokeStyle = '#000';
      ctx.lineWidth = 1;
      ctx.strokeRect(l, t, r - l, b - t);
      ctx.lineWidth = 0.8;
      ctx.beginPath();
      xTicks.forEach(function (v) {
        var px = Math.round(xs.getPixelForValue(v)) + 0.5;
        ctx.moveTo(px, t); ctx.lineTo(px, t + 3.5);
        ctx.moveTo(px, b); ctx.lineTo(px, b - 3.5);
      });
      p.ticks.forEach(function (v) {
        var py = Math.round(ys.getPixelForValue(v)) + 0.5;
        ctx.moveTo(l, py); ctx.lineTo(l + 3.5, py);
        ctx.moveTo(r, py); ctx.lineTo(r - 3.5, py);
      });
      ctx.stroke();
      ctx.restore();
      p.ylab(ctx, a);
    }
  };

  new Chart(canvas, {
    type: 'line',
    data: {datasets: p.datasets},
    options: {
      responsive: false,
      animation: false,
      events: [],
      layout: {padding: {top: p.top - p.canvasTop, bottom: p.last ? 0 : 6, left: 0, right: 2}},
      plugins: {legend: {display: false}, tooltip: {enabled: false}},
      elements: {line: {tension: 0}},
      scales: {
        x: {
          type: 'linear', min: X_MIN, max: X_MAX, display: !!p.last,
          grid: {display: false, drawTicks: false}, border: {display: false},
          afterBuildTicks: function (s) { s.ticks = xTicks.map(function (v) { return {value: v}; }); },
          afterFit: function (s) { if (p.last) s.height = 32; },
          ticks: {font: {family: SANS, size: 7.5}, color: '#000', padding: 6, maxRotation: 0, autoSkip: false,
            callback: function (v) { return minus(v); }}
        },
        y: {
          type: 'linear', min: p.min, max: p.max,
          grid: {display: false, drawTicks: false}, border: {display: false},
          afterBuildTicks: function (s) { s.ticks = p.ticks.map(function (v) { return {value: v}; }); },
          afterFit: function (s) { s.width = 39; },
          ticks: {font: {family: SANS, size: 7.5}, color: '#000', padding: 5, autoSkip: false,
            callback: function (v) { return p.fmt(v); }}
        }
      }
    },
    plugins: [deco]
  });
});
</script>
</body>
</html>
